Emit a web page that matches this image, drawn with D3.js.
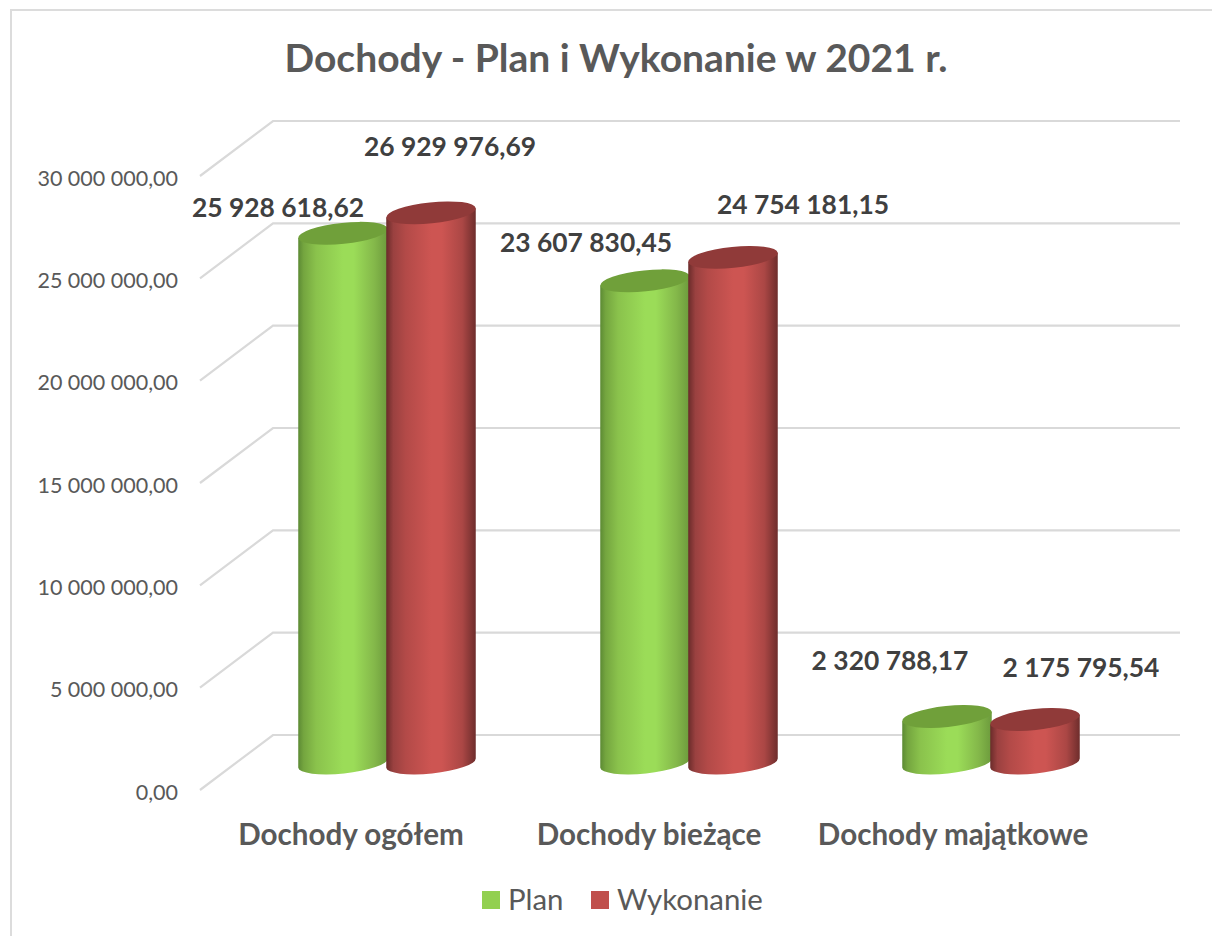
<!DOCTYPE html>
<html><head><meta charset="utf-8">
<script src="https://cdn.jsdelivr.net/npm/d3@7"></script>
<style>html,body{margin:0;padding:0;background:#fff;overflow:hidden}text{font-family:Lato,"Open Sans",sans-serif}</style>
</head><body><div id="chart"></div>
<script>
const categories = ["Dochody ogółem","Dochody bieżące","Dochody majątkowe"];
const seriesNames = ["Plan","Wykonanie"];
const planValues = [25928618.62,23607830.45,2320788.17];
const wykonanieValues = [26929976.69,24754181.15,2175795.54];
const yTicks = [0,5000000,10000000,15000000,20000000,25000000,30000000];
const chartTitle = "Dochody - Plan i Wykonanie w 2021 r.";

const W=1212,H=936;
const depthBack=-29, depthFront=26;
const fmt = v => d3.format(",.2f")(v).replace(/,/g," ").replace(".",",");
const svg=d3.select("#chart").append("svg").attr("width",W).attr("height",H).style("display","block");

const y=d3.scaleLinear().domain([0,30000000]).range([764,150]);
const x0=d3.scaleBand().domain(categories).range([235,1141]);
const x1=d3.scaleBand().domain(seriesNames).range([64,240]);
const color=d3.scaleOrdinal().domain(seriesNames).range(["#92d050","#c0504d"]);
const rows=[planValues,wykonanieValues];

const defs=svg.append("defs");
const stops={Plan:[[0,"#5c8a34"],[.06,"#74a53f"],[.2,"#8ac24c"],[.5,"#9bdc58"],[.62,"#9bdc58"],[.85,"#84b84a"],[1,"#6c9a3c"]],
 Wykonanie:[[0,"#6a2b2a"],[.08,"#9a4140"],[.22,"#b34a48"],[.5,"#cd5552"],[.62,"#cd5552"],[.85,"#ab4745"],[1,"#6e2d2c"]]};
seriesNames.forEach((s,i)=>{
  defs.append("linearGradient").attr("id","grad"+i).selectAll("stop").data(stops[s]).join("stop")
    .attr("offset",d=>d[0]).attr("stop-color",d=>d[1]);
});
const topColor={Plan:"#70a03a",Wykonanie:"#903a39"};

// frame
svg.append("path").attr("d",`M11 ${H}V10H${W}`).attr("fill","none").attr("stroke","#dcdcdc").attr("stroke-width",2);

// gridlines
const grid=svg.append("g").attr("fill","none").attr("stroke","#d9d9d9").attr("stroke-width",2.2);
grid.selectAll("path").data(yTicks).join("path")
  .attr("d",v=>`M200 ${y(v)+depthFront}L273 ${y(v)+depthBack}H1180`);

// axis labels
svg.append("g").selectAll("text").data(yTicks).join("text")
  .attr("x",178).attr("y",v=>y(v)+depthFront+2).attr("dy","0.36em").attr("text-anchor","end")
  .attr("fill","#595959").style("font-size","21.5px").text(fmt);

// cylinders
const rx=x1.bandwidth()/2+1, ry=10.5, rot=-6;
const a=rot*Math.PI/180, ex=rx*Math.cos(a), ey=rx*Math.sin(a);
const marks=[];
seriesNames.forEach((s,si)=>categories.forEach((c,ci)=>marks.push({s,si,c,ci,v:rows[si][ci]})));
marks.sort((p,q)=>p.ci-q.ci||p.si-q.si);
const bars=svg.append("g").selectAll("g").data(marks).join("g")
  .attr("transform",d=>`translate(${x0(d.c)+x1(d.s)+x1.bandwidth()/2},0)`);
bars.append("path").attr("fill",d=>`url(#grad${d.si})`)
  .attr("d",d=>{const t=y(d.v),b=y(0)-1;
    return `M${-ex} ${t-ey}L${-ex} ${b-ey}A${rx} ${ry} ${rot} 0 0 ${ex} ${b+ey}L${ex} ${t+ey}Z`;});
bars.append("ellipse").attr("rx",rx).attr("ry",ry).attr("fill",d=>topColor[d.s])
  .attr("transform",d=>`translate(0,${y(d.v)}) rotate(${rot})`);

// data labels (hand-placed in the reference, offsets from each bar top)
const labelDx=[[-65,-59,-57],[19,70,46]];
const labelDy=[[-26,-38,-56],[-66,-53,-52]];
svg.append("g").selectAll("text").data(marks).join("text")
  .attr("x",d=>x0(d.c)+x1(d.s)+x1.bandwidth()/2+labelDx[d.si][d.ci])
  .attr("y",d=>y(d.v)+labelDy[d.si][d.ci]).attr("dy","0.36em").attr("text-anchor","middle")
  .attr("fill","#404040").style("font-size","26.4px").style("font-weight","700").text(d=>fmt(d.v));

// category labels
const catDx=[-35,-39,-37];
svg.append("g").selectAll("text").data(categories).join("text")
  .attr("x",(c,i)=>x0(c)+x0.bandwidth()/2+catDx[i]).attr("y",834).attr("dy","0.36em").attr("text-anchor","middle")
  .attr("fill","#595959").style("font-size","29.6px").style("font-weight","700").text(c=>c);

// title
svg.append("text").attr("x",616).attr("y",58).attr("dy","0.36em").attr("text-anchor","middle")
  .attr("fill","#595959").style("font-size","39px").style("font-weight","700").text(chartTitle);

// legend
const legendX=[482,591];
const lg=svg.append("g").selectAll("g").data(seriesNames).join("g")
  .attr("transform",(d,i)=>`translate(${legendX[i]},891)`);
lg.append("rect").attr("width",18).attr("height",18).attr("fill",d=>color(d));
lg.append("text").attr("x",26).attr("y",8).attr("dy","0.36em").attr("fill","#595959")
  .style("font-size","29.4px").text(d=>d);
</script></body></html>
